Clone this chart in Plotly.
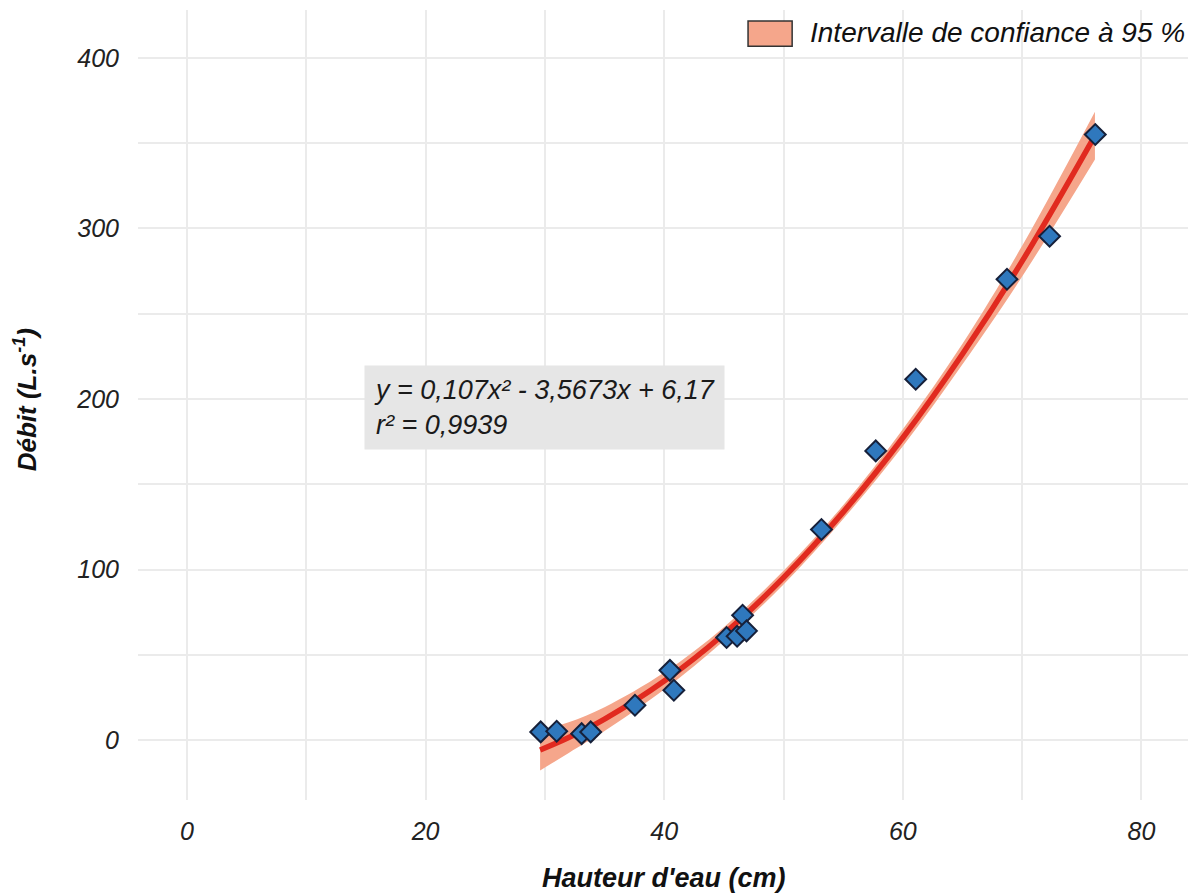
import plotly.graph_objects as go

# Observed data (Hauteur d'eau in cm, Débit in L/s)
hauteur = [29.65, 30.99, 33.08, 33.84, 37.55, 40.48, 40.81, 45.23, 46.11, 46.57, 46.9,
           53.18, 57.73, 61.08, 68.73, 72.3, 76.13]
debit = [4.9, 5.3, 3.9, 4.9, 20.5, 41.0, 29.3, 60.2, 61.0, 73.3, 64.1,
         123.5, 169.6, 211.6, 270.2, 295.4, 355.0]

# Fitted curve and 95 % confidence band
fit_x = [29.6, 32, 35, 40, 45, 50, 55, 60, 65, 70, 76.1]
fit_y = [-5.7, 1.6, 12.4, 34.7, 62.3, 95.3, 133.7, 177.3, 226.4, 280.8, 354.4]
ci_low = [-17.7, -7.4, 5.4, 29.7, 58.3, 91.3, 129.7, 172.3, 220.4, 271.8, 340.4]
ci_high = [6.3, 10.6, 19.4, 39.7, 66.3, 99.3, 137.7, 182.3, 232.4, 289.8, 368.4]

x_ticks = [0, 20, 40, 60, 80]
y_ticks = [0, 100, 200, 300, 400]

equation = "y = 0,107x² - 3,5673x + 6,17<br>r² = 0,9939"
legend_label = "Intervalle de confiance à 95 %"
x_title = "Hauteur d'eau (cm)"
y_title = "Débit (L.s<sup>-1</sup>)"

FONT = "Liberation Sans, Arial, sans-serif"
BAND = "#f5a68b"
RED = "#e12a1f"
GRID = "#ebebeb"

fig = go.Figure()
fig.add_trace(go.Scatter(x=fit_x, y=ci_low, mode="lines", line=dict(width=0, shape="spline"),
                         showlegend=False, hoverinfo="skip"))
fig.add_trace(go.Scatter(x=fit_x, y=ci_high, mode="lines", line=dict(width=0, shape="spline"),
                         fill="tonexty", fillcolor=BAND, showlegend=False, hoverinfo="skip"))
fig.add_trace(go.Scatter(x=fit_x, y=fit_y, mode="lines", line=dict(color=RED, width=5.5, shape="spline"),
                         showlegend=False))
fig.add_trace(go.Scatter(x=hauteur, y=debit, mode="markers",
                         marker=dict(symbol="diamond", size=16, color="#2f78bd",
                                     line=dict(color="#16203a", width=2)),
                         showlegend=False))

fig.update_layout(
    width=1197, height=895,
    margin=dict(l=138, r=9, t=10, b=95),
    paper_bgcolor="white", plot_bgcolor="white",
    font=dict(family=FONT, color="#222222"),
    showlegend=False,
)
fig.update_xaxes(range=[-4.1, 83.9], tickvals=x_ticks, ticktext=[str(v) for v in x_ticks],
                 showgrid=True, gridcolor=GRID, gridwidth=1.5, zeroline=False, showline=False,
                 ticks="", ticklabelstandoff=14,
                 tickfont=dict(family=FONT, size=25, style="italic", color="#222222"),
                 minor=dict(dtick=10, tick0=0, showgrid=True, gridcolor=GRID, gridwidth=1.5))
fig.update_yaxes(range=[-35, 428], tickvals=y_ticks, ticktext=[str(v) for v in y_ticks],
                 showgrid=True, gridcolor=GRID, gridwidth=1.5, zeroline=False, showline=False,
                 ticks="", ticklabelstandoff=18,
                 tickfont=dict(family=FONT, size=25, style="italic", color="#222222"),
                 minor=dict(dtick=50, tick0=0, showgrid=True, gridcolor=GRID, gridwidth=1.5))

# Equation box
fig.add_annotation(x=14.8, y=195, xref="x", yref="y", xanchor="left", yanchor="middle",
                   text=equation, showarrow=False, align="left",
                   font=dict(family=FONT, size=27, style="italic", color="#1a1a1a"),
                   bgcolor="#e6e6e6", borderpad=9)

# Axis titles
fig.add_annotation(x=0.5, y=-0.099, xref="paper", yref="paper", text=x_title, showarrow=False,
                   xanchor="center", yanchor="middle",
                   font=dict(family=FONT, size=27, style="italic", weight="bold", color="#111111"))
fig.add_annotation(x=-0.1076, y=0.506, xref="paper", yref="paper", text=y_title, showarrow=False,
                   textangle=-90, xanchor="center", yanchor="middle",
                   font=dict(family=FONT, size=26, style="italic", weight="bold", color="#111111"))

# Legend (manual)
fig.add_shape(type="rect", xref="paper", yref="paper", x0=0.581, x1=0.623, y0=0.954, y1=0.986,
              fillcolor=BAND, line=dict(color="#333333", width=1.5))
fig.add_annotation(x=0.638, y=0.971, xref="paper", yref="paper", text=legend_label, showarrow=False,
                   xanchor="left", yanchor="middle",
                   font=dict(family=FONT, size=28, style="italic", color="#111111"))

fig.write_html("out.html", config={"displayModeBar": False},
               post_script="document.body.style.margin='0';document.body.style.overflow='hidden';")
